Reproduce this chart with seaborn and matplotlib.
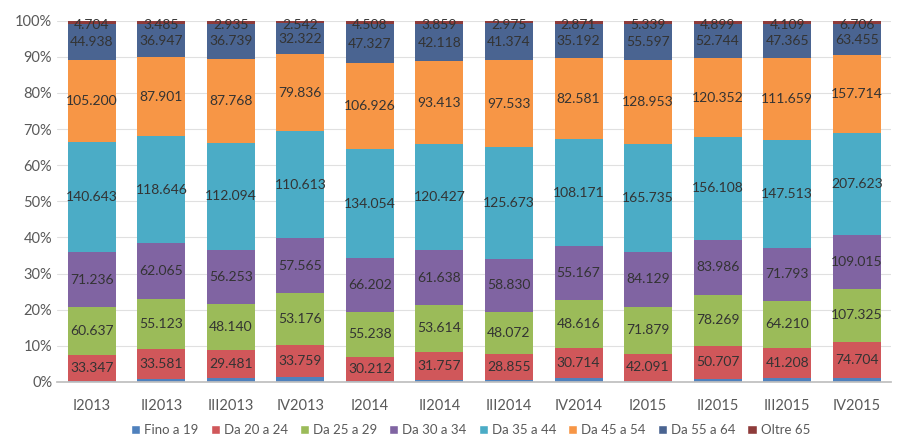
import numpy as np
import pandas as pd
import seaborn as sns
import matplotlib.pyplot as plt
from matplotlib.patches import Patch
from matplotlib.ticker import PercentFormatter

quarters = ["I2013", "II2013", "III2013", "IV2013", "I2014", "II2014",
            "III2014", "IV2014", "I2015", "II2015", "III2015", "IV2015"]

fino_19 = [1.4, 3.0, 4.0, 5.0, 1.0, 2.0, 2.0, 4.0, 1.5, 4.5, 5.5, 7.5]
da_20_24 = [33.347, 33.581, 29.481, 33.759, 30.212, 31.757, 28.855, 30.714, 42.091, 50.707, 41.208, 74.704]
da_25_29 = [60.637, 55.123, 48.140, 53.176, 55.238, 53.614, 48.072, 48.616, 71.879, 78.269, 64.210, 107.325]
da_30_34 = [71.236, 62.065, 56.253, 57.565, 66.202, 61.638, 58.830, 55.167, 84.129, 83.986, 71.793, 109.015]
da_35_44 = [140.643, 118.646, 112.094, 110.613, 134.054, 120.427, 125.673, 108.171, 165.735, 156.108, 147.513, 207.623]
da_45_54 = [105.200, 87.901, 87.768, 79.836, 106.926, 93.413, 97.533, 82.581, 128.953, 120.352, 111.659, 157.714]
da_55_64 = [44.938, 36.947, 36.739, 32.322, 47.327, 42.118, 41.374, 35.192, 55.597, 52.744, 47.365, 63.455]
oltre_65 = [4.704, 3.485, 2.935, 2.542, 4.508, 3.859, 2.975, 2.871, 5.339, 4.899, 4.109, 6.706]

series_names = ["Fino a 19", "Da 20 a 24", "Da 25 a 29", "Da 30 a 34",
                "Da 35 a 44", "Da 45 a 54", "Da 55 a 64", "Oltre 65"]
series = [fino_19, da_20_24, da_25_29, da_30_34, da_35_44, da_45_54, da_55_64, oltre_65]
colors = ["#4F81BD", "#D0575A", "#9BBB59", "#8064A2",
          "#4BACC6", "#F79646", "#4A6491", "#8E3B3A"]

sns.set_theme(style="white")
plt.rcParams['font.family'] = ['Lato', 'DejaVu Sans']

vals = np.array(series, dtype=float)
pct = vals / vals.sum(axis=0) * 100
cum = np.cumsum(pct, axis=0)

fig = plt.figure(figsize=(9.05, 4.46), dpi=100)
ax = fig.add_axes([0.063, 0.1435, 0.922, 0.81])

# draw cumulative layers from the top one down so each covers the rest
for i in range(len(series) - 1, -1, -1):
    df = pd.DataFrame({"quarter": quarters, "cum": cum[i]})
    sns.barplot(data=df, x="quarter", y="cum", order=quarters, color=colors[i],
                saturation=1, width=0.69, linewidth=0, ax=ax, zorder=2)

# value labels (skip the first, unlabeled series)
for i in range(1, len(series)):
    for j in range(len(quarters)):
        mid = cum[i][j] - pct[i][j] / 2
        if i == len(series) - 1:
            mid -= 0.8
        ax.text(j, mid, f"{series[i][j]:.3f}", ha="center", va="center",
                fontsize=10, color="#333333", zorder=3)

ax.set_ylim(0, 100)
ax.set_xlim(-0.5, len(quarters) - 0.5)
ax.set_yticks(np.arange(0, 101, 10))
ax.yaxis.set_major_formatter(PercentFormatter(decimals=0))
ax.grid(axis="y", color="#E0E0E0", linewidth=0.8, zorder=0)
ax.set_axisbelow(True)
ax.set_xlabel("")
ax.set_ylabel("")
for s in ["top", "right", "left"]:
    ax.spines[s].set_visible(False)
ax.spines["bottom"].set_color("#BFBFBF")
ax.tick_params(axis="both", length=0, labelsize=10.5, colors="#595959")
ax.tick_params(axis="x", pad=12)

handles = [Patch(facecolor=c, label=n) for c, n in zip(colors, series_names)]
fig.legend(handles=handles, loc="lower center", bbox_to_anchor=(0.52, -0.005),
           ncol=8, frameon=False, fontsize=9.5, handlelength=0.7,
           handleheight=0.7, handletextpad=0.3, columnspacing=0.9,
           labelcolor="#595959")

fig.savefig("out.png", dpi=100)
